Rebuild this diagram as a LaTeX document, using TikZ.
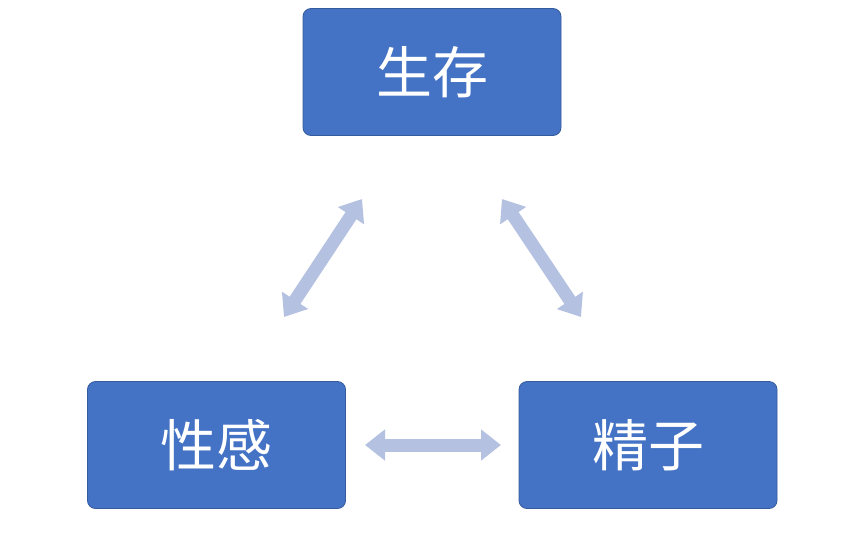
\documentclass[tikz,border=0pt]{standalone}
\usepackage{fontspec}
\newfontfamily\cjk{Noto Sans CJK SC}
\usetikzlibrary{arrows.meta}
\definecolor{boxblue}{HTML}{4472C4}
\definecolor{arrowblue}{HTML}{B4C1E1}
\tikzset{
  box/.style={draw=boxblue!80!black,line width=0.8pt,fill=boxblue,rounded corners=8pt,
    minimum width=258pt,minimum height=127pt,text=white,font=\cjk\fontsize{56}{60}\selectfont},
  link/.style={draw=arrowblue,line width=13pt,
    {Triangle[width=30pt,length=20pt]}-{Triangle[width=30pt,length=20pt]}}
}
\begin{document}
\begin{tikzpicture}[x=1pt,y=-1pt]
\useasboundingbox (0,0) rectangle (865,536);
\node[box] (shengcun) at (432,72) {生存};
\node[box] (xinggan) at (216.5,445) {性感};
\node[box] (jingzi) at (648,445) {精子};
% free ends of the links
\coordinate (a1) at (362,199);
\coordinate (a2) at (284,317);
\coordinate (b1) at (502,199);
\coordinate (b2) at (581,317);
\coordinate (c1) at (365,445);
\coordinate (c2) at (501,445);
\draw[link] (a1) -- (a2);
\draw[link] (b1) -- (b2);
\draw[link] (c1) -- (c2);
\end{tikzpicture}
\end{document}
